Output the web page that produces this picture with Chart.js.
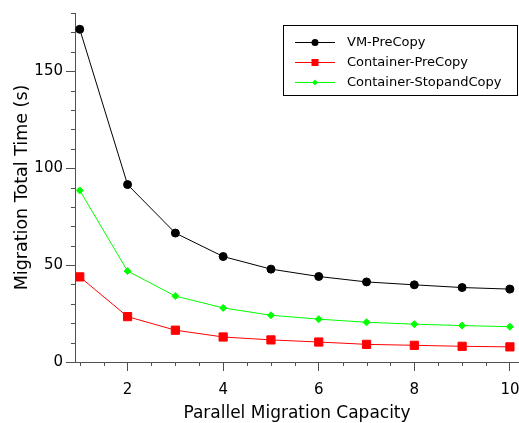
<!DOCTYPE html>
<html>
<head>
<meta charset="utf-8">
<script src="https://cdn.jsdelivr.net/npm/chart.js@4/dist/chart.umd.min.js"></script>
<style>
  html, body { margin: 0; padding: 0; background: #fff; }
  canvas { display: block; }
</style>
</head>
<body>
<canvas id="chart" width="519" height="423"></canvas>
<script>
  // data
  const capacity = [1, 2, 3, 4, 5, 6, 7, 8, 9, 10];
  const vmPreCopy = [171.6, 91.5, 66.5, 54.4, 47.9, 44.1, 41.3, 39.8, 38.4, 37.6];
  const containerPreCopy = [43.9, 23.4, 16.4, 12.9, 11.4, 10.3, 9.1, 8.6, 8.1, 7.8];
  const containerStopCopy = [88.5, 46.9, 34.0, 27.9, 24.1, 22.1, 20.5, 19.5, 18.8, 18.2];
  const seriesNames = ['VM-PreCopy', 'Container-PreCopy', 'Container-StopandCopy'];

  const xMajorTicks = [2, 4, 6, 8, 10];
  const yMajorTicks = [0, 50, 100, 150];

  const FONT = '"DejaVu Sans", Verdana, sans-serif';
  const AXIS_COLOR = '#505050';

  const toPoints = function (ys) {
    return capacity.map((x, i) => ({ x: x, y: ys[i] }));
  };

  // short ticks between the labelled ones
  const minorTicks = {
    id: 'minorTicks',
    afterDraw: function (chart) {
      const ctx = chart.ctx;
      const xs = chart.scales.x;
      const ys = chart.scales.y;
      ctx.save();
      ctx.strokeStyle = AXIS_COLOR;
      ctx.lineWidth = 1;
      ctx.beginPath();
      for (let v = 1; v <= 10; v += 0.5) {
        if (xMajorTicks.includes(v)) continue;
        const px = Math.round(xs.getPixelForValue(v)) + 0.5;
        ctx.moveTo(px, ys.bottom);
        ctx.lineTo(px, ys.bottom + 4);
      }
      for (let v = 10; v <= 180; v += 10) {
        if (yMajorTicks.includes(v)) continue;
        const py = Math.round(ys.getPixelForValue(v)) + 0.5;
        ctx.moveTo(xs.left, py);
        ctx.lineTo(xs.left - 4, py);
      }
      ctx.stroke();
      ctx.restore();
    }
  };

  // boxed legend in the top right corner, line + marker samples
  const boxLegend = {
    id: 'boxLegend',
    afterDraw: function (chart) {
      const ctx = chart.ctx;
      const box = { x: 283.5, y: 25.5, w: 234, h: 70 };
      ctx.save();
      ctx.strokeStyle = '#000';
      ctx.lineWidth = 1;
      ctx.strokeRect(box.x, box.y, box.w, box.h);

      ctx.font = '13px ' + FONT;
      ctx.textBaseline = 'middle';
      ctx.fillStyle = '#000';
      chart.data.datasets.forEach(function (ds, i) {
        const y = Math.round(box.y + 16 + i * 20) + 0.5;
        ctx.strokeStyle = ds.borderColor;
        ctx.beginPath();
        ctx.moveTo(295, y);
        ctx.lineTo(335, y);
        ctx.stroke();

        ctx.fillStyle = ds.backgroundColor;
        ctx.beginPath();
        if (ds.pointStyle === 'circle') {
          ctx.arc(315, y, 3.5, 0, Math.PI * 2);
        } else if (ds.pointStyle === 'rect') {
          ctx.rect(311.5, y - 3.5, 7, 7);
        } else {
          ctx.moveTo(315, y - 3);
          ctx.lineTo(318, y);
          ctx.lineTo(315, y + 3);
          ctx.lineTo(312, y);
          ctx.closePath();
        }
        ctx.fill();

        ctx.fillStyle = '#000';
        ctx.fillText(ds.label, 347, y);
      });
      ctx.restore();
    }
  };

  const lineStyle = function (label, data, color, pointStyle, radius) {
    return {
      label: label,
      data: toPoints(data),
      borderColor: color,
      backgroundColor: color,
      borderWidth: 1,
      pointStyle: pointStyle,
      pointRadius: radius,
      pointBorderWidth: 1,
      pointBorderColor: color,
      pointBackgroundColor: color,
      tension: 0,
      clip: false
    };
  };

  new Chart(document.getElementById('chart'), {
    type: 'line',
    data: {
      datasets: [
        lineStyle(seriesNames[0], vmPreCopy, '#000000', 'circle', 4),
        lineStyle(seriesNames[1], containerPreCopy, '#ff0000', 'rect', 5.8),
        lineStyle(seriesNames[2], containerStopCopy, '#00ff00', 'rectRot', 3.5)
      ]
    },
    options: {
      responsive: false,
      animation: false,
      events: [],
      layout: {
        autoPadding: false,
        padding: { top: 13, right: 0, left: 0, bottom: 0 }
      },
      plugins: {
        legend: { display: false },
        tooltip: { enabled: false }
      },
      scales: {
        x: {
          type: 'linear',
          min: 0.9,
          max: 10.19,
          afterFit: function (scale) {
            scale.height = 61;
            // let the last label run to the canvas edge
            scale.paddingLeft = 0;
            scale.paddingRight = 0;
          },
          afterBuildTicks: function (scale) {
            scale.ticks = xMajorTicks.map(v => ({ value: v }));
          },
          border: { color: AXIS_COLOR, width: 1 },
          grid: { drawOnChartArea: false, tickLength: 9, tickColor: AXIS_COLOR },
          ticks: {
            color: '#000',
            padding: 10,
            maxRotation: 0,
            font: { family: FONT, size: 15 }
          },
          title: {
            display: true,
            text: 'Parallel Migration Capacity',
            color: '#000',
            font: { family: FONT, size: 17 },
            padding: { top: 0, bottom: -1 }
          }
        },
        y: {
          min: 0,
          max: 180,
          afterFit: function (scale) {
            scale.width = 75;
            scale.paddingTop = 0;
            scale.paddingBottom = 0;
          },
          afterBuildTicks: function (scale) {
            scale.ticks = yMajorTicks.map(v => ({ value: v }));
          },
          border: { color: AXIS_COLOR, width: 1 },
          grid: { drawOnChartArea: false, tickLength: 9, tickColor: AXIS_COLOR },
          ticks: {
            color: '#000',
            padding: 3,
            font: { family: FONT, size: 15 }
          },
          title: {
            display: true,
            text: 'Migration Total Time (s)',
            color: '#000',
            font: { family: FONT, size: 17.5 },
            padding: { top: 12, bottom: 0 }
          }
        }
      }
    },
    plugins: [minorTicks, boxLegend]
  });
</script>
</body>
</html>
